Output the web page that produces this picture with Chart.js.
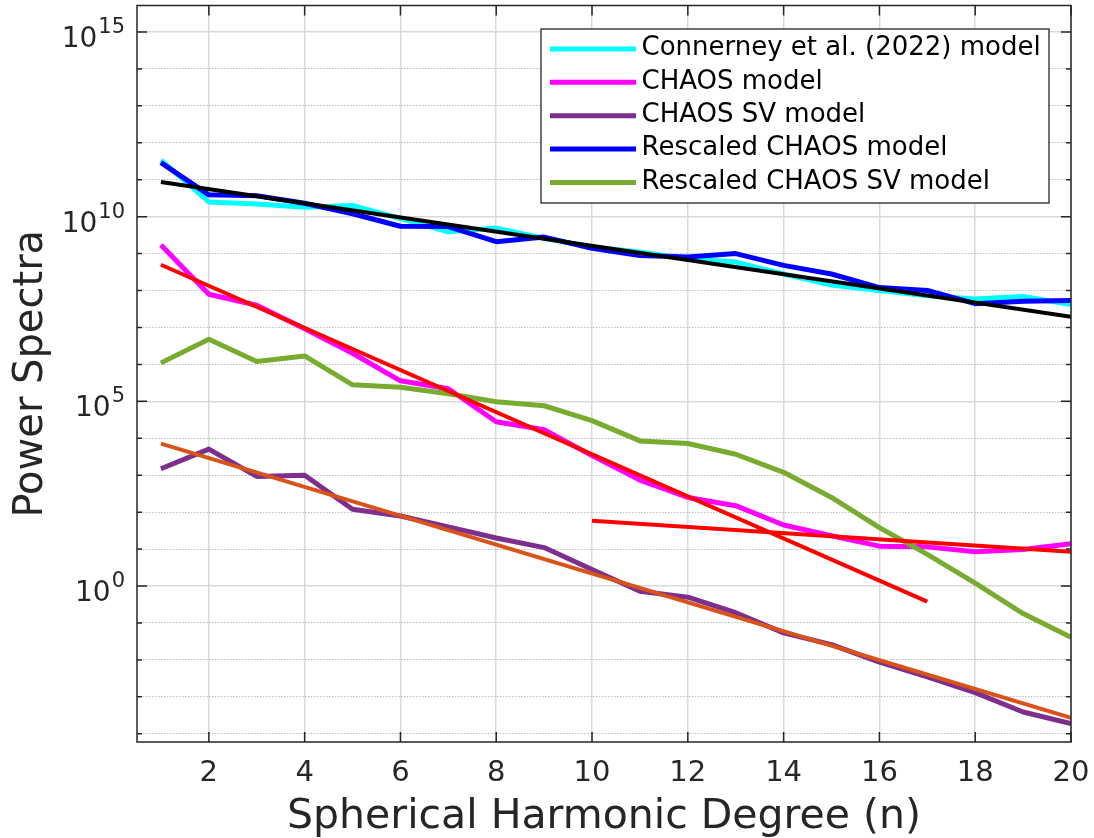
<!DOCTYPE html>
<html>
<head>
<meta charset="utf-8">
<title>Power Spectra</title>
<script src="https://cdn.jsdelivr.net/npm/chart.js@4.4.0/dist/chart.umd.min.js"></script>
<style>
  html, body { margin: 0; padding: 0; background: #fff; }
</style>
</head>
<body>
<canvas id="spectraChart" width="1094" height="838"></canvas>
<script>
"use strict";

// Spherical harmonic degree n
const degrees = [1, 2, 3, 4, 5, 6, 7, 8, 9, 10, 11, 12, 13, 14, 15, 16, 17, 18, 19, 20];

// Power spectra per degree
const connerney = [3.4e11, 2.5e10, 2.2e10, 1.8e10, 2.0e10, 8.9e9, 3.9e9, 4.9e9, 2.6e9, 1.5e9,
  1.1e9, 7.2e8, 5.9e8, 2.8e8, 1.4e8, 1.0e8, 7.2e7, 5.9e7, 6.9e7, 4.2e7];
const chaos = [1.7e9, 7.9e7, 4.0e7, 9.3e6, 2.0e6, 3.6e5, 2.2e5, 2.8e4, 1.7e4, 3.4e3,
  740, 250, 150, 45, 23, 12, 11.5, 8.5, 9.8, 14];
const chaosSV = [1.5e3, 5.1e3, 930, 1.0e3, 120, 79, 40, 20, 11, 2.8,
  0.72, 0.50, 0.19, 0.054, 0.026, 0.0087, 0.0035, 0.0013, 3.9e-4, 1.9e-4];
const rescaledChaos = [2.9e11, 3.9e10, 3.7e10, 2.3e10, 1.2e10, 5.5e9, 5.4e9, 2.1e9, 2.8e9, 1.4e9,
  8.9e8, 8.1e8, 1.0e9, 4.8e8, 2.8e8, 1.2e8, 1.0e8, 4.4e7, 5.1e7, 5.4e7];
const rescaledChaosSV = [1.1e6, 4.8e6, 1.2e6, 1.7e6, 2.8e5, 2.4e5, 1.6e5, 9.8e4, 7.6e4, 3.0e4,
  8.5e3, 7.2e3, 3.7e3, 1.2e3, 250, 38, 7.2, 1.2, 0.18, 0.041];

// Straight fits in log space, given by their end points
const fitMainDegrees = [1, 20];
const fitMain = [8.7e10, 1.95e7];
const fitChaosDegrees = [1, 17];
const fitChaos = [5.0e8, 0.38];
const fitChaosTailDegrees = [10, 20];
const fitChaosTail = [59, 8.5];
const fitSVDegrees = [1, 20];
const fitSV = [7.2e3, 2.7e-4];

const legendLabels = [
  "Connerney et al. (2022) model",
  "CHAOS model",
  "CHAOS SV model",
  "Rescaled CHAOS model",
  "Rescaled CHAOS SV model"
];

const xTicks = [2, 4, 6, 8, 10, 12, 14, 16, 18, 20];
const yDecades = [-4, -3, -2, -1, 0, 1, 2, 3, 4, 5, 6, 7, 8, 9, 10, 11, 12, 13, 14, 15];
const yLabelExponents = [0, 5, 10, 15];
const xMin = 0.5, xMax = 20;
const yMin = 6.0e-5, yMax = 5.2e15;

const FONT = '"DejaVu Sans", sans-serif';
const INK = "#262626";

function toPoints(xs, ys) {
  return xs.map((x, i) => ({ x: x, y: ys[i] }));
}

function series(label, xs, ys, color, width, inLegend) {
  return {
    label: label,
    data: toPoints(xs, ys),
    borderColor: color,
    backgroundColor: color,
    borderWidth: width,
    borderJoinStyle: "round",
    pointRadius: 0,
    pointHoverRadius: 0,
    tension: 0,
    fill: false,
    inLegend: inLegend
  };
}

const datasets = [
  series(legendLabels[0], degrees, connerney, "#00ffff", 5, true),
  series(legendLabels[1], degrees, chaos, "#ff00ff", 5, true),
  series(legendLabels[2], degrees, chaosSV, "#7e2f8e", 5, true),
  series(legendLabels[3], degrees, rescaledChaos, "#0000ff", 5, true),
  series(legendLabels[4], degrees, rescaledChaosSV, "#77ac30", 5, true),
  series("fit main", fitMainDegrees, fitMain, "#000000", 4, false),
  series("fit chaos", fitChaosDegrees, fitChaos, "#ff0000", 4, false),
  series("fit chaos tail", fitChaosTailDegrees, fitChaosTail, "#ff0000", 4, false),
  series("fit sv", fitSVDegrees, fitSV, "#d95319", 4, false)
];
// later datasets sit on top
datasets.forEach((d, i) => { d.order = datasets.length - i; });

const isLabelled = ctx => ctx.tick && yLabelExponents.includes(Math.round(Math.log10(ctx.tick.value)));

// box, inward ticks on all four sides and the 10^k labels
const axesFrame = {
  id: "axesFrame",
  afterDatasetsDraw(chart) {
    const { ctx, chartArea: a } = chart;
    const xs = chart.scales.x, ys = chart.scales.y;
    ctx.save();
    ctx.strokeStyle = INK;
    ctx.lineWidth = 1.5;
    ctx.strokeRect(a.left, a.top, a.right - a.left, a.bottom - a.top);
    ctx.beginPath();
    xTicks.forEach(v => {
      const px = xs.getPixelForValue(v);
      ctx.moveTo(px, a.bottom);
      ctx.lineTo(px, a.bottom - 10);
      ctx.moveTo(px, a.top);
      ctx.lineTo(px, a.top + 10);
    });
    yDecades.forEach(k => {
      const py = ys.getPixelForValue(Math.pow(10, k));
      const len = yLabelExponents.includes(k) ? 10 : 5;
      ctx.moveTo(a.left, py);
      ctx.lineTo(a.left + len, py);
      ctx.moveTo(a.right, py);
      ctx.lineTo(a.right - len, py);
    });
    ctx.stroke();

    ctx.fillStyle = INK;
    ctx.textAlign = "right";
    ctx.textBaseline = "alphabetic";
    const right = a.left - 12;
    yLabelExponents.forEach(k => {
      const py = ys.getPixelForValue(Math.pow(10, k));
      const exp = String(k);
      ctx.font = "21px " + FONT;
      const expWidth = ctx.measureText(exp).width;
      ctx.fillText(exp, right, py + 1);
      ctx.font = "28px " + FONT;
      ctx.fillText("10", right - expWidth - 1, py + 15);
    });
    ctx.restore();
  }
};

// legend box in the upper right of the axes
const boxLegend = {
  id: "boxLegend",
  afterDraw(chart) {
    const { ctx, chartArea: a } = chart;
    const items = chart.data.datasets.filter(d => d.inLegend);
    const left = a.right - 530, top = a.top + 23.5;
    const width = 508, height = 174;
    const rowGap = 33.35;
    ctx.save();
    ctx.fillStyle = "#ffffff";
    ctx.fillRect(left, top, width, height);
    ctx.strokeStyle = INK;
    ctx.lineWidth = 1.3;
    ctx.strokeRect(left, top, width, height);
    ctx.font = "26px " + FONT;
    ctx.textAlign = "left";
    ctx.textBaseline = "middle";
    items.forEach((d, i) => {
      const cy = top + 20 + i * rowGap;
      ctx.strokeStyle = d.borderColor;
      ctx.lineWidth = 5;
      ctx.beginPath();
      ctx.moveTo(left + 9, cy);
      ctx.lineTo(left + 95, cy);
      ctx.stroke();
      ctx.fillStyle = "#000000";
      ctx.fillText(d.label, left + 100.5, cy - 0.5);
    });
    ctx.restore();
  }
};

Chart.defaults.font.family = FONT;
Chart.defaults.color = INK;

new Chart(document.getElementById("spectraChart"), {
  type: "line",
  data: { datasets: datasets },
  options: {
    responsive: false,
    animation: false,
    layout: { padding: { top: 5.5, right: 23, bottom: 0, left: 0 } },
    plugins: {
      legend: { display: false },
      tooltip: { enabled: false }
    },
    scales: {
      x: {
        type: "linear",
        min: xMin,
        max: xMax,
        afterBuildTicks: scale => { scale.ticks = xTicks.map(v => ({ value: v })); },
        afterFit: scale => {
          scale.height = 96;
          // the last label may hang past the axes edge
          scale.paddingLeft = 0;
          scale.paddingRight = 0;
        },
        ticks: {
          font: { size: 29 },
          color: INK,
          padding: 14,
          autoSkip: false,
          maxRotation: 0,
          callback: v => String(v)
        },
        grid: { color: "#d9d9d9", lineWidth: 1.5, drawTicks: false },
        border: { display: false },
        title: {
          display: true,
          text: "Spherical Harmonic Degree (n)",
          font: { size: 41, lineHeight: 1 },
          color: INK,
          padding: { top: 0, bottom: 0 }
        }
      },
      y: {
        type: "logarithmic",
        min: yMin,
        max: yMax,
        afterBuildTicks: scale => { scale.ticks = yDecades.map(k => ({ value: Math.pow(10, k) })); },
        afterFit: scale => { scale.width = 137; },
        ticks: { display: false },
        grid: {
          drawTicks: false,
          lineWidth: ctx => isLabelled(ctx) ? 1.5 : 1,
          color: ctx => isLabelled(ctx) ? "#d9d9d9" : "#bdbdbd"
        },
        border: {
          display: false,
          dash: ctx => (ctx.tick && !isLabelled(ctx)) ? [1.5, 1.5] : []
        },
        title: {
          display: true,
          text: "Power Spectra",
          font: { size: 40, lineHeight: 1 },
          color: INK,
          padding: { top: 12, bottom: 0 }
        }
      }
    }
  },
  plugins: [axesFrame, boxLegend]
});
</script>
</body>
</html>
